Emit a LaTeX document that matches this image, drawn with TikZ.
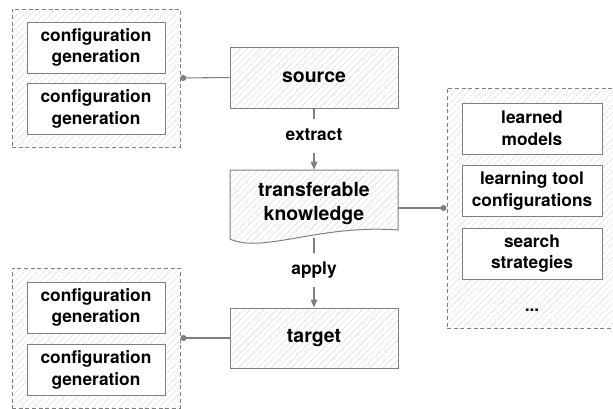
\documentclass[tikz,border=0pt]{standalone}
\usepackage{fontspec}
\setmainfont{TeX Gyre Heros}
\usetikzlibrary{arrows.meta,patterns.meta}

\definecolor{edgegray}{RGB}{128,128,128}
\definecolor{hatchgray}{RGB}{218,218,218}

\tikzset{
  hatch/.style={pattern={Lines[angle=45,distance=3.5pt,line width=0.35pt]},pattern color=hatchgray},
  mainbox/.style={draw=edgegray,line width=0.75pt,hatch,minimum width=126pt,align=center,font=\fontsize{14.6}{18}\selectfont\bfseries},
  groupbox/.style={draw=edgegray,line width=0.75pt,dash pattern=on 3pt off 2pt,hatch},
  itembox/.style={draw=edgegray,line width=0.75pt,fill=white,minimum height=38.25pt,align=center,font=\fontsize{13}{16.3}\selectfont\bfseries},
  steplabel/.style={font=\fontsize{13}{16}\selectfont\bfseries,text height=9.5pt,text depth=2.5pt,inner ysep=6.5pt},
  flow/.style={edgegray,line width=0.8pt,-{Triangle[length=6pt,width=5pt]}},
  link/.style={edgegray,line width=0.8pt,-{Circle[length=4.5pt]}},
}

\begin{document}
\begin{tikzpicture}[x=0.75pt,y=0.75pt,yscale=-1,xscale=1]
    \useasboundingbox (0,0) rectangle (613,408);

    %Groups: dashed hatched frames
    \node[groupbox,minimum width=126pt,minimum height=103.5pt] (grpA) at (96,78) {};
    \node[groupbox,minimum width=126pt,minimum height=105pt] (grpB) at (96,338) {};
    \node[groupbox,minimum width=124.5pt,minimum height=180pt] (grpC) at (530,208) {};

    %Items in the left groups
    \node[itembox,minimum width=103.5pt] (cgA1) at (96,47.5) {configuration\\generation};
    \node[itembox,minimum width=103.5pt] (cgA2) at (96,109) {configuration\\generation};
    \node[itembox,minimum width=103.5pt] (cgB1) at (96,307.5) {configuration\\generation};
    \node[itembox,minimum width=103.5pt] (cgB2) at (96,370) {configuration\\generation};

    %Items in the right group
    \node[itembox,minimum width=105pt] (models) at (532,128.5) {learned\\models};
    \node[itembox,minimum width=105pt] (toolcfg) at (532,191) {learning tool\\configurations};
    \node[itembox,minimum width=105pt] (search) at (532,253.5) {search\\strategies};
    \node[font=\fontsize{13}{16}\selectfont\bfseries] (more) at (532,310) {...};

    %Main boxes
    \node[mainbox,minimum height=45.75pt] (src) at (314,77.5) {source};
    \node[mainbox,minimum height=45pt] (tgt) at (314,338) {target};

    %Shape: Document
    \path[draw=edgegray,line width=0.75pt,hatch] (230,170) -- (398,170) -- (398,230) .. controls (320,224) and (262,254) .. (230,239) -- cycle;
    \node[minimum width=126pt,minimum height=51pt,align=center,font=\fontsize{14.6}{18}\selectfont\bfseries] (know) at (314,204) {transferable\\knowledge};

    % Text Node
    \node[steplabel] (ext) at (314,136) {extract};
    \node[steplabel] (app) at (314,270) {apply};

    %Connectors
    \draw[edgegray,line width=0.8pt] (src) -- (ext);
    \draw[flow] (ext) -- (know);
    \draw[edgegray,line width=0.8pt] (know.south) -- (app);
    \draw[flow] (app) -- (tgt);
    \draw[link] (src.west) -- (grpA.east);
    \draw[link] (tgt.west) -- (grpB.east);
    \draw[link] (know.east |- grpC.west) -- (grpC.west);
\end{tikzpicture}
\end{document}
